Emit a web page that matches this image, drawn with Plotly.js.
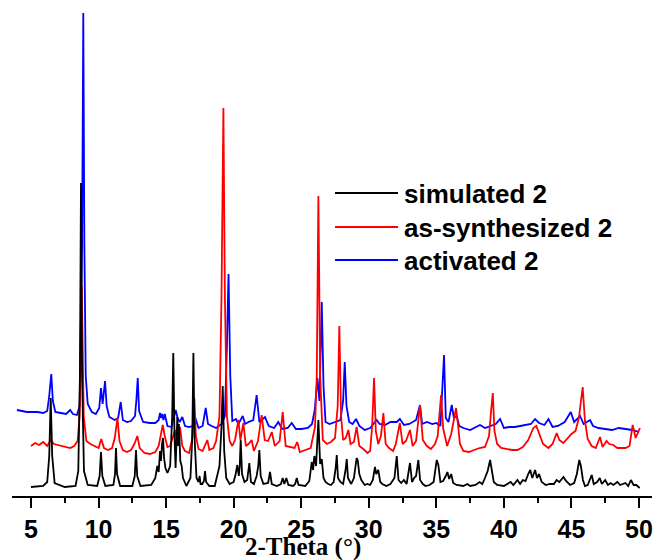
<!DOCTYPE html>
<html>
<head>
<meta charset="utf-8">
<script src="https://cdn.plot.ly/plotly-3.0.1.min.js"></script>
<style>
  html, body { margin: 0; padding: 0; background: #ffffff; }
  #chart { width: 657px; height: 560px; }
</style>
</head>
<body>
<div id="chart"></div>
<script>
// ---- series names ----
const seriesNames = ["simulated 2", "as-synthesized 2", "activated 2"];
const seriesColors = ["#000000", "#ff0000", "#0000ff"];

// ---- simulated 2 (2-theta, intensity a.u.) ----
const thetaSim = [5.00,5.90,6.20,6.35,6.46,6.57,6.75,7.50,8.30,8.50,8.62,8.70,8.78,8.92,9.20,9.90,10.08,10.18,10.28,10.50,
11.10,11.22,11.29,11.37,11.60,12.50,12.68,12.77,12.86,13.10,13.90,14.20,14.35,14.45,14.55,14.62,14.70,14.77,14.85,14.95,
15.10,15.30,15.45,15.53,15.62,15.70,15.83,15.90,15.95,16.05,16.15,16.25,16.50,16.80,16.94,17.02,17.10,17.25,17.40,17.48,
17.55,17.68,17.80,17.88,17.96,18.20,18.60,18.95,19.10,19.19,19.30,19.45,19.70,20.00,20.15,20.27,20.38,20.45,20.52,20.62,
20.80,21.00,21.16,21.28,21.50,21.70,21.82,21.90,22.00,22.20,22.55,22.69,22.82,23.20,23.50,23.63,23.75,23.90,24.05,24.40,
24.55,24.67,24.80,25.30,25.60,25.78,25.88,25.97,26.10,26.27,26.40,26.52,26.65,26.80,27.00,27.20,27.40,27.55,27.63,27.72,
27.90,28.10,28.28,28.37,28.46,28.70,28.90,29.02,29.10,29.18,29.30,29.45,29.70,29.90,30.10,30.30,30.46,30.55,30.70,30.85,
31.00,31.30,31.60,31.90,32.07,32.20,32.40,32.60,32.80,33.05,33.20,33.35,33.50,33.67,33.80,34.00,34.20,34.50,34.80,35.03,
35.15,35.30,35.50,35.70,35.82,35.95,36.10,36.25,36.50,37.00,37.30,37.50,37.90,38.20,38.40,38.60,38.80,38.98,39.10,39.25,
39.50,40.00,40.50,40.70,41.00,41.20,41.40,41.60,41.80,41.95,42.10,42.31,42.45,42.60,42.80,43.10,43.40,43.70,43.90,44.10,
44.41,44.60,44.90,45.20,45.40,45.58,45.70,45.85,46.00,46.20,46.50,46.65,46.90,47.10,47.25,47.50,47.70,47.90,48.10,48.40,
48.60,48.80,49.00,49.20,49.40,49.60,49.80,50.05];
const intSim = [9,10,14,40,98,40,13,9,10,25,120,313,120,25,11,10,20,44,20,10,
11,22,48,22,10,10,20,46,20,10,11,18,30,24,45,35,52,58,38,28,
23,30,80,143,60,28,79,50,72,35,30,18,10,18,60,143,60,18,14,20,
12,12,15,25,14,10,10,30,70,110,45,18,12,14,22,31,20,30,56,22,
14,16,33,14,12,20,30,46,20,12,13,24,12,10,12,18,12,18,11,10,
12,18,11,10,15,34,26,40,30,76,32,37,18,14,12,11,14,28,41,18,
14,12,26,37,18,12,18,34,38,36,22,16,11,12,11,16,29,22,26,14,
12,10,12,18,40,16,13,16,12,33,14,18,20,36,16,12,10,11,14,36,
31,14,15,20,24,17,22,13,11,10,12,10,11,14,12,18,25,36,26,14,
11,10,14,11,16,12,16,15,22,26,18,26,18,22,14,11,12,12,16,14,
19,15,11,13,22,36,30,16,10,11,21,12,14,18,12,16,11,13,11,14,
11,12,13,10,16,11,11,8];

// ---- as-synthesized 2 ----
const thetaSyn = [5.00,5.30,5.60,5.90,6.20,6.46,6.70,7.00,7.30,7.60,7.90,8.20,8.45,8.60,8.76,8.90,9.10,9.40,9.70,10.00,
10.20,10.40,10.70,11.00,11.20,11.40,11.55,11.80,12.10,12.40,12.65,12.87,13.05,13.40,13.80,14.20,14.45,14.65,14.75,14.90,
15.10,15.30,15.50,15.66,15.80,16.03,16.20,16.40,16.70,16.90,17.00,17.09,17.20,17.40,17.70,17.90,18.05,18.20,18.50,18.70,
18.95,19.10,19.24,19.35,19.50,19.70,19.90,20.10,20.35,20.50,20.72,20.90,21.10,21.33,21.50,21.80,22.07,22.30,22.55,22.82,
23.05,23.40,23.63,23.85,24.20,24.50,24.70,24.90,25.30,25.70,26.02,26.15,26.27,26.40,26.60,26.90,27.20,27.50,27.70,27.82,
27.95,28.10,28.30,28.49,28.65,28.90,29.10,29.30,29.60,29.90,30.10,30.25,30.39,30.52,30.70,30.90,31.08,31.25,31.50,31.80,
32.00,32.30,32.50,32.75,33.05,33.25,33.50,33.79,34.00,34.30,34.60,34.90,35.10,35.35,35.50,35.80,36.10,36.30,36.46,36.60,
36.75,37.00,37.40,37.80,38.20,38.60,38.90,39.05,39.18,39.30,39.50,39.80,40.20,40.60,41.00,41.40,41.80,42.18,42.40,42.60,
42.90,43.30,43.60,43.91,44.10,44.40,44.70,45.00,45.30,45.55,45.83,46.00,46.20,46.50,46.80,47.12,47.30,47.60,47.80,48.10,
48.40,48.70,49.00,49.30,49.53,49.75,50.07];
const intSyn = [50,53,51,54,50,56,52,51,50,49,48,50,55,80,210,80,55,52,50,48,
57,48,46,48,58,78,55,46,44,46,52,60,48,43,42,44,50,65,71,60,
49,50,58,66,55,69,50,45,43,55,75,98,60,47,45,52,56,46,48,55,
80,200,388,200,80,55,50,56,76,56,73,50,52,56,45,55,81,56,55,64,
50,55,84,50,49,48,54,44,46,48,69,120,300,120,56,52,54,58,90,170,
80,56,58,66,52,54,69,50,47,43,45,70,118,65,52,60,83,52,48,45,
52,73,52,55,66,50,55,91,56,50,47,52,60,101,68,50,62,75,88,72,
52,45,44,46,48,49,60,85,103,65,52,48,47,46,46,49,56,68,70,62,
52,48,52,63,56,53,58,62,65,78,109,75,57,50,48,59,49,55,52,51,
48,48,48,50,71,58,68];

// ---- activated 2 ----
const thetaAct = [3.96,4.30,4.70,5.10,5.50,5.90,6.20,6.35,6.50,6.62,6.80,7.20,7.60,7.90,8.10,8.40,8.60,8.78,8.87,8.95,
9.05,9.20,9.50,9.80,10.05,10.18,10.30,10.48,10.60,10.80,11.20,11.45,11.64,11.80,12.10,12.40,12.70,12.80,12.90,13.00,
13.30,13.80,14.20,14.45,14.55,14.63,14.70,14.80,14.90,15.10,15.40,15.71,15.85,16.00,16.20,16.40,16.70,16.95,17.14,17.40,
17.70,17.93,18.10,18.37,18.70,19.10,19.35,19.50,19.62,19.75,19.90,20.17,20.35,20.67,20.85,21.10,21.45,21.70,21.90,22.32,
22.60,23.00,23.30,23.60,24.00,24.30,24.60,25.00,25.50,25.80,26.00,26.20,26.35,26.52,26.65,26.80,27.10,27.50,27.90,28.10,
28.22,28.35,28.55,28.80,29.06,29.30,29.70,30.10,30.58,30.80,31.20,31.60,32.07,32.30,32.60,33.00,33.50,33.79,33.95,34.30,
34.70,35.00,35.30,35.57,35.70,35.90,36.14,36.30,36.50,36.70,37.00,37.50,38.00,38.23,38.60,39.00,39.40,39.72,40.00,40.40,
40.80,41.20,41.60,42.00,42.31,42.60,43.00,43.30,43.60,44.00,44.50,44.95,45.20,45.64,45.90,46.38,46.60,47.00,47.50,48.00,
48.50,49.00,49.50,50.00];
const intAct = [86,85,84,84,84,83,85,100,122,95,84,83,82,86,82,81,90,250,483,250,
120,92,84,82,88,108,92,115,90,79,76,78,94,76,74,75,80,96,118,85,
74,73,73,76,83,78,82,76,82,70,69,86,78,74,79,70,69,70,79,68,
70,88,72,70,68,72,80,150,222,120,75,77,72,80,72,74,76,101,74,79,
70,68,74,67,68,73,67,67,68,72,86,118,95,194,110,74,72,74,76,95,
134,90,74,72,77,70,66,68,76,72,71,74,74,77,71,72,76,91,72,74,
72,73,70,141,78,74,91,78,80,70,68,66,69,71,68,70,72,77,68,69,
69,70,71,72,77,73,71,77,69,70,74,84,74,80,72,76,70,68,67,66,
68,67,66,64];

// ---- axis ticks ----
const tickValues = [5,10,15,20,25,30,35,40,45,50];
const tickLabels = ["5","10","15","20","25","30","35","40","45","50"];
const xTitle = "2-Theta (°)";

const PLOT_L = 12, PLOT_R = 5, PLOT_T = 0, PLOT_B = 64;
const W = 657, H = 560;
const plotW = W - PLOT_L - PLOT_R, plotH = H - PLOT_T - PLOT_B;
const px2paperX = px => (px - PLOT_L) / plotW;
const py2paperY = py => (plotH - (py - PLOT_T)) / plotH;

const lineStyle = {width: 1.8};
const traces = [
  {x: thetaAct, y: intAct, name: seriesNames[2], line: Object.assign({color: seriesColors[2]}, lineStyle)},
  {x: thetaSyn, y: intSyn, name: seriesNames[1], line: Object.assign({color: seriesColors[1]}, lineStyle)},
  {x: thetaSim, y: intSim, name: seriesNames[0], line: Object.assign({color: seriesColors[0]}, lineStyle)}
].map(t => Object.assign({type: 'scatter', mode: 'lines', hoverinfo: 'skip', showlegend: false}, t));

// manual legend (long line samples as in the original)
const legendRowsPx = [193, 227, 260];
const shapes = [], annotations = [];
seriesNames.forEach((nm, i) => {
  const yp = py2paperY(legendRowsPx[i]);
  shapes.push({type: 'line', xref: 'paper', yref: 'paper',
    x0: px2paperX(335), x1: px2paperX(398), y0: yp, y1: yp,
    line: {color: seriesColors[i], width: 2}});
  annotations.push({xref: 'paper', yref: 'paper', x: px2paperX(402), y: py2paperY(legendRowsPx[i] + 1),
    xanchor: 'left', yanchor: 'middle', showarrow: false, text: '<b>' + nm + '</b>',
    font: {family: 'Liberation Sans, Arial, sans-serif', size: 26, color: '#000'}});
});
// axis title (placed left of centre as in the original)
annotations.push({xref: 'paper', yref: 'paper', x: px2paperX(303), y: py2paperY(547),
  xanchor: 'center', yanchor: 'middle', showarrow: false, text: '<b>' + xTitle + '</b>',
  font: {family: 'Liberation Serif, Times New Roman, serif', size: 25, color: '#000'}});

const layout = {
  width: W, height: H,
  margin: {l: PLOT_L, r: PLOT_R, t: PLOT_T, b: PLOT_B},
  paper_bgcolor: '#ffffff', plot_bgcolor: '#ffffff',
  showlegend: false,
  xaxis: {
    range: [3.594, 50.962], tickmode: 'array', tickvals: tickValues,
    ticktext: tickLabels.map(s => '<b>' + s + '</b>'),
    ticks: 'outside', ticklen: 10, tickwidth: 2, tickcolor: '#000',
    minor: {ticks: 'outside', ticklen: 5, tickwidth: 2, tickcolor: '#000', dtick: 2.5, tick0: 5, showgrid: false},
    showline: true, linewidth: 2, linecolor: '#000', mirror: false,
    showgrid: false, zeroline: false, automargin: false,
    tickfont: {family: 'Liberation Sans, Arial, sans-serif', size: 25, color: '#000'}
  },
  yaxis: {visible: false, range: [0, plotH], fixedrange: true},
  shapes: shapes, annotations: annotations
};

Plotly.newPlot('chart', traces, layout, {staticPlot: true, displayModeBar: false});
</script>
</body>
</html>
